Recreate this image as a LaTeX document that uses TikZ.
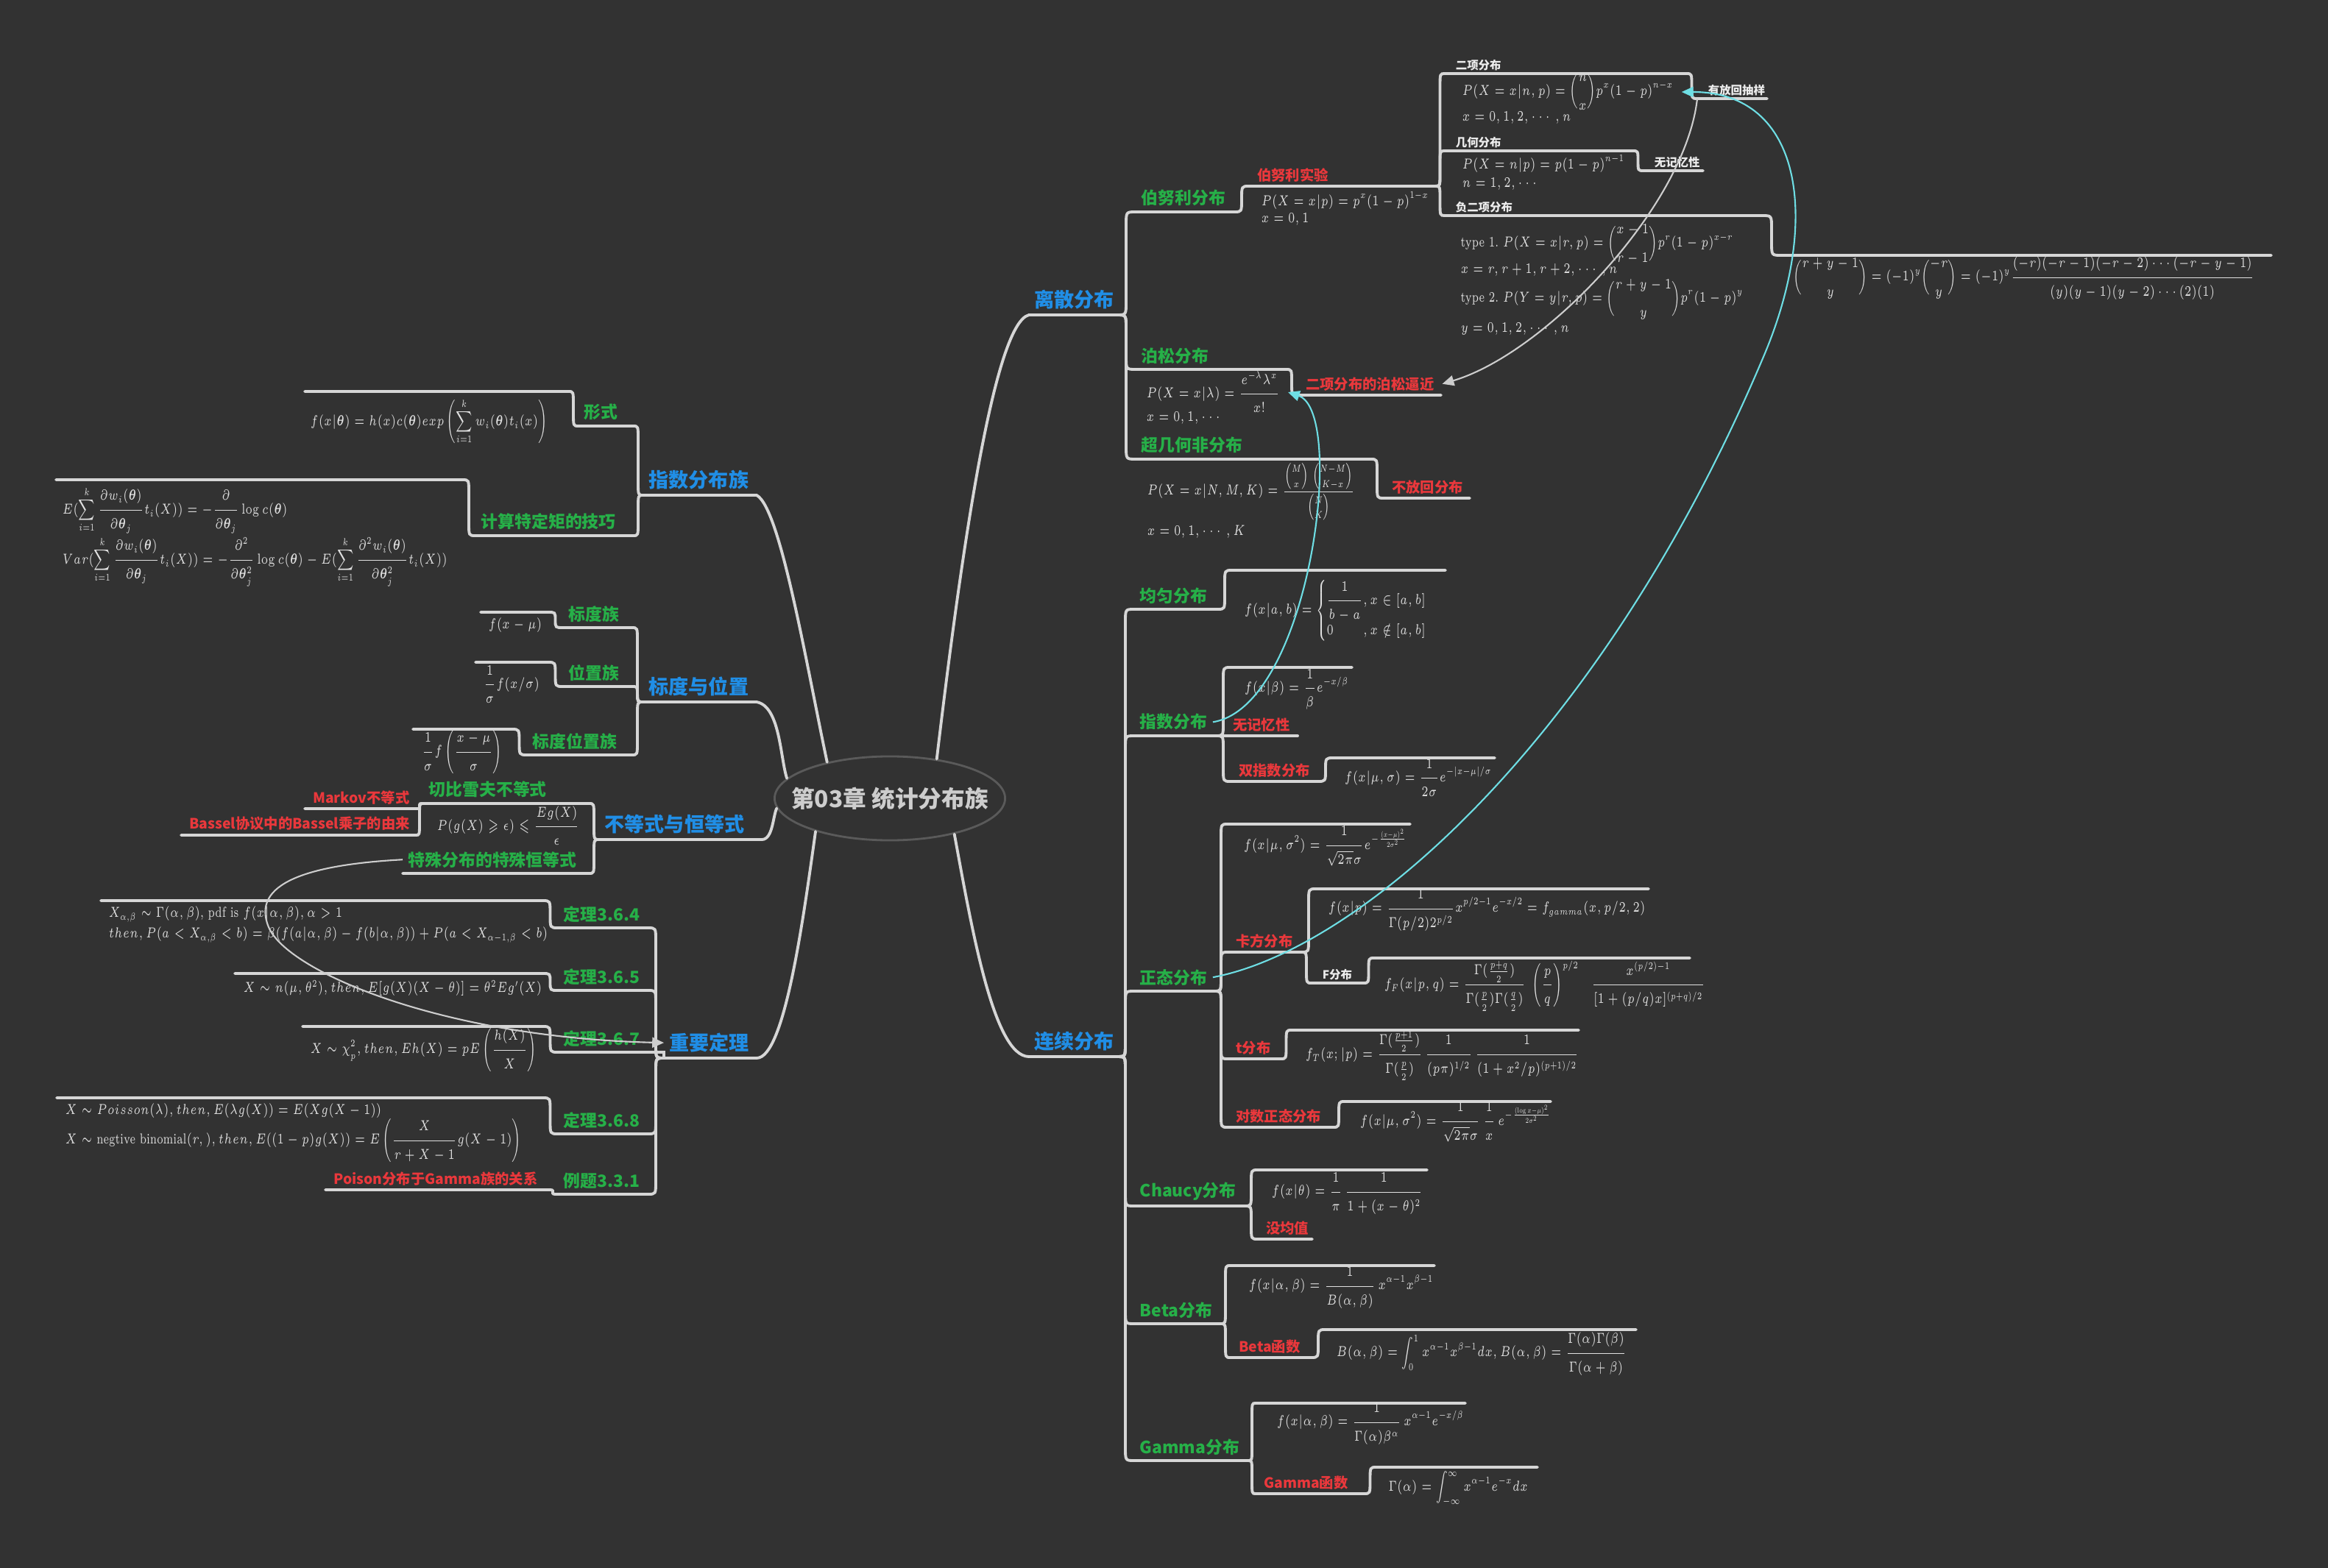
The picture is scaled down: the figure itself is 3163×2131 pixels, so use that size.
\RequirePackage{fix-cm}
\documentclass[tikz,border=0pt]{standalone}
\usepackage{amsmath,amssymb}
\usepackage[no-math]{fontspec}
\newfontfamily\cjk{Noto Sans CJK SC}
\usetikzlibrary{calc,arrows.meta,shapes.geometric}

\definecolor{bgcolor}{RGB}{50,50,50}
\definecolor{linegray}{RGB}{214,214,214}
\definecolor{ellipsegray}{RGB}{90,90,90}
\definecolor{titlegray}{RGB}{205,205,205}
\definecolor{mapblue}{RGB}{32,142,230}
\definecolor{mapgreen}{RGB}{38,176,72}
\definecolor{mapred}{RGB}{234,56,60}
\definecolor{maptext}{RGB}{236,236,236}
\definecolor{formulagray}{RGB}{224,224,224}
\definecolor{relcyancol}{RGB}{110,222,228}
\definecolor{relgraycol}{RGB}{205,205,205}

% formulas are set a little condensed
\newcommand{\fml}[1]{\scalebox{0.70}[1]{#1}}

\tikzset{
  uline/.style={draw=linegray, line width=1.1pt, line cap=round},
  branch/.style={uline, to path={let \p1=(\tikztostart), \p2=(\tikztotarget),
      \p3=($(\tikztostart)!0.5!(\tikztotarget)$),
      \n2={min(abs(\y2-\y1)/2,5pt)*ifthenelse(\y2>\y1,1,-1)} in
      .. controls (\x3,\y1) .. (\x3,{\y1+(\n2)}) -- (\x3,{\y2-(\n2)})
      .. controls (\x3,\y2) .. (\tikztotarget)}},
  topic/.style={anchor=south west, inner xsep=2pt, inner ysep=2pt},
  maintopic/.style={topic, text=mapblue, font=\cjk\bfseries\fontsize{7.7}{9}\selectfont},
  subtopic/.style={topic, text=mapgreen, font=\cjk\bfseries\fontsize{6.5}{8}\selectfont},
  notetopic/.style={topic, inner xsep=3pt, inner ysep=1.5pt, text=mapred, font=\cjk\bfseries\fontsize{5.5}{7}\selectfont},
  smalltopic/.style={topic, inner xsep=4pt, inner ysep=1pt, text=maptext, font=\cjk\bfseries\fontsize{4.4}{5.5}\selectfont},
  formula/.style={anchor=west, inner sep=0pt, text=formulagray, font=\fontsize{5.6}{7}\selectfont},
  relcyan/.style={draw=relcyancol, line width=0.6pt, -{Triangle[length=4.5pt,width=4pt]}},
  relgray/.style={draw=relgraycol, line width=0.6pt, -{Triangle[length=4.5pt,width=4pt]}}
}

\begin{document}
\begin{tikzpicture}[x=0.01cm, y=-0.01cm]
\useasboundingbox (0,0) rectangle (3163,2131);
\fill[bgcolor] (0,0) rectangle (3163,2131);

% Centre topic
\node[ellipse, draw=ellipsegray, fill=bgcolor, line width=0.8pt, minimum width=3.13cm, minimum height=1.14cm,
  inner sep=0pt, text=titlegray, font=\cjk\bfseries\fontsize{9}{11}\selectfont] (title) at (1209,1085) {\makebox[0pt]{第03章 统计分布族}};

% ---------------- discrete distributions ----------------
\coordinate (dscL) at (1398,428);   \coordinate (dscR) at (1517,428);
\coordinate (bernL) at (1543,288);  \coordinate (bernR) at (1677,288);
\coordinate (bexpL) at (1697,253);  \coordinate (bexpR) at (1950,253);
\coordinate (poisL) at (1543,502);  \coordinate (poisR) at (1747,502);
\coordinate (poisAL) at (1763,537); \coordinate (poisAR) at (1958,537);
\coordinate (hypL) at (1543,624);   \coordinate (hypR) at (1862,624);
\coordinate (noRepL) at (1880,677); \coordinate (noRepR) at (1997,677);
\coordinate (binL) at (1963,100);   \coordinate (binR) at (2291,100);
\coordinate (withRepL) at (2306,134); \coordinate (withRepR) at (2401,134);
\coordinate (geoL) at (1963,205);   \coordinate (geoR) at (2218,205);
\coordinate (noMemL) at (2233,232); \coordinate (noMemR) at (2314,232);
\coordinate (nbinL) at (1963,293);  \coordinate (nbinR) at (2394,293);
\coordinate (nbinIdL) at (2420,347); \coordinate (nbinIdR) at (3086,347);

\draw[uline] (title.40) .. controls (1305,760) and (1350,440) .. (dscL) -- (dscR);
\draw[branch] (dscR) to (bernL) -- (bernR);
\draw[branch] (bernR) to (bexpL) -- (bexpR);
\draw[branch] (dscR) to (poisL) -- (poisR);
\draw[branch] (poisR) to (poisAL) -- (poisAR);
\draw[branch] (dscR) to (hypL) -- (hypR);
\draw[branch] (hypR) to (noRepL) -- (noRepR);
\draw[branch] (bexpR) to (binL) -- (binR);
\draw[branch] (binR) to (withRepL) -- (withRepR);
\draw[branch] (bexpR) to (geoL) -- (geoR);
\draw[branch] (geoR) to (noMemL) -- (noMemR);
\draw[branch] (bexpR) to (nbinL) -- (nbinR);
\draw[branch] (nbinR) to (nbinIdL) -- (nbinIdR);

\node[maintopic] (dscT) at (dscL) {离散分布};
\node[subtopic] (bernT) at (bernL) {伯努利分布};
\node[notetopic] (bexpT) at (bexpL) {伯努利实验};
\node[subtopic] (poisT) at (poisL) {泊松分布};
\node[notetopic] (poisAT) at (poisAL) {二项分布的泊松逼近};
\node[subtopic] (hypT) at (hypL) {超几何非分布};
\node[notetopic] (noRepT) at (noRepL) {不放回分布};
\node[smalltopic] (binT) at (binL) {二项分布};
\node[smalltopic] (withRepT) at (withRepL) {有放回抽样};
\node[smalltopic] (geoT) at (geoL) {几何分布};
\node[smalltopic] (noMemT) at (noMemL) {无记忆性};
\node[smalltopic] (nbinT) at (nbinL) {负二项分布};

\node[formula] (bexpF1) at (1713,272) {\fml{$\displaystyle P(X=x|p)=p^x(1-p)^{1-x}$}};
\node[formula] (bexpF2) at (1713,298) {\fml{$x=0,1$}};
\node[formula] (poisF1) at (1557,533) {\fml{$\displaystyle P(X=x|\lambda)=\frac{e^{-\lambda}\lambda^x}{x!}$}};
\node[formula] (poisF2) at (1557,568) {\fml{$x=0,1,\cdots$}};
\node[formula] (hypF1) at (1558,668) {\fml{$\displaystyle P(X=x|N,M,K)=\frac{\binom{M}{x}\;\binom{N-M}{K-x}}{\binom{N}{K}}$}};
\node[formula] (hypF2) at (1558,723) {\fml{$x=0,1,\cdots,K$}};
\node[formula] (binF1) at (1986,125) {\fml{$\displaystyle P(X=x|n,p)=\binom{n}{x}p^x(1-p)^{n-x}$}};
\node[formula] (binF2) at (1986,160) {\fml{$x=0,1,2,\cdots,n$}};
\node[formula] (geoF1) at (1986,222) {\fml{$\displaystyle P(X=n|p)=p(1-p)^{n-1}$}};
\node[formula] (geoF2) at (1986,250) {\fml{$n=1,2,\cdots$}};
\node[formula] (nbinF1) at (1984,332) {\fml{type 1.~$\displaystyle P(X=x|r,p)=\binom{x-1}{r-1}p^r(1-p)^{x-r}$}};
\node[formula] (nbinF2) at (1984,367) {\fml{$x=r,r+1,r+2,\cdots,n$}};
\node[formula] (nbinF3) at (1984,407) {\fml{type 2.~$\displaystyle P(Y=y|r,p)=\binom{r+y-1}{y}p^r(1-p)^y$}};
\node[formula] (nbinF4) at (1984,447) {\fml{$y=0,1,2,\cdots,n$}};
\node[formula] (nbinIdF) at (2436,378) {\fml{$\displaystyle \binom{r+y-1}{y}=(-1)^y\binom{-r}{y}=(-1)^y\frac{(-r)(-r-1)(-r-2)\cdots(-r-y-1)}{(y)(y-1)(y-2)\cdots(2)(1)}$}};

% ---------------- continuous distributions ----------------
\coordinate (ctsL) at (1398,1436);  \coordinate (ctsR) at (1517,1436);
\coordinate (unifL) at (1541,828);  \coordinate (unifR) at (1654,828);
\coordinate (unifCL) at (1674,775); \coordinate (unifCR) at (1964,775);
\coordinate (expoL) at (1541,1000); \coordinate (expoR) at (1652,1000);
\coordinate (expoCL) at (1672,907); \coordinate (expoCR) at (1837,907);
\coordinate (expoMemL) at (1664,1000); \coordinate (expoMemR) at (1763,1000);
\coordinate (dexpL) at (1672,1062); \coordinate (dexpR) at (1790,1062);
\coordinate (dexpCL) at (1812,1030); \coordinate (dexpCR) at (2031,1030);
\coordinate (normL) at (1541,1347); \coordinate (normR) at (1650,1347);
\coordinate (normCL) at (1668,1120); \coordinate (normCR) at (1916,1120);
\coordinate (chiL) at (1668,1294);  \coordinate (chiR) at (1768,1294);
\coordinate (chiCL) at (1788,1208); \coordinate (chiCR) at (2240,1208);
\coordinate (fdL) at (1782,1336);   \coordinate (fdR) at (1852,1336);
\coordinate (fdCL) at (1867,1302);  \coordinate (fdCR) at (2296,1302);
\coordinate (tdL) at (1668,1439);   \coordinate (tdR) at (1740,1439);
\coordinate (tdCL) at (1755,1400);  \coordinate (tdCR) at (2145,1400);
\coordinate (lnL) at (1668,1532);   \coordinate (lnR) at (1811,1532);
\coordinate (lnCL) at (1827,1497);  \coordinate (lnCR) at (2107,1497);
\coordinate (cauL) at (1541,1639);  \coordinate (cauR) at (1691,1639);
\coordinate (cauCL) at (1709,1590); \coordinate (cauCR) at (1939,1590);
\coordinate (noMeanL) at (1709,1684); \coordinate (noMeanR) at (1783,1684);
\coordinate (betaL) at (1541,1799); \coordinate (betaR) at (1658,1799);
\coordinate (betaCL) at (1672,1720); \coordinate (betaCR) at (1949,1720);
\coordinate (betaFnL) at (1672,1845); \coordinate (betaFnR) at (1781,1845);
\coordinate (bfCL) at (1801,1807);  \coordinate (bfCR) at (2223,1807);
\coordinate (gamL) at (1541,1985);  \coordinate (gamR) at (1696,1985);
\coordinate (gamCL) at (1706,1907); \coordinate (gamCR) at (1991,1907);
\coordinate (gamFnL) at (1706,2030); \coordinate (gamFnR) at (1853,2030);
\coordinate (gfCL) at (1870,1994);  \coordinate (gfCR) at (2089,1994);

\draw[uline] (title.-29) .. controls (1320,1260) and (1350,1436) .. (ctsL) -- (ctsR);
\draw[branch] (ctsR) to (unifL) -- (unifR);
\draw[branch] (unifR) to (unifCL) -- (unifCR);
\draw[branch] (ctsR) to (expoL) -- (expoR);
\draw[branch] (expoR) to (expoCL) -- (expoCR);
\draw[uline] (expoR) -- (expoMemR);
\draw[branch] (expoR) to (dexpL) -- (dexpR);
\draw[branch] (dexpR) to (dexpCL) -- (dexpCR);
\draw[branch] (ctsR) to (normL) -- (normR);
\draw[branch] (normR) to (normCL) -- (normCR);
\draw[branch] (normR) to (chiL) -- (chiR);
\draw[branch] (chiR) to (chiCL) -- (chiCR);
\draw[branch] (chiR) to (fdL) -- (fdR);
\draw[branch] (fdR) to (fdCL) -- (fdCR);
\draw[branch] (normR) to (tdL) -- (tdR);
\draw[branch] (tdR) to (tdCL) -- (tdCR);
\draw[branch] (normR) to (lnL) -- (lnR);
\draw[branch] (lnR) to (lnCL) -- (lnCR);
\draw[branch] (ctsR) to (cauL) -- (cauR);
\draw[branch] (cauR) to (cauCL) -- (cauCR);
\draw[branch] (cauR) to (noMeanL) -- (noMeanR);
\draw[branch] (ctsR) to (betaL) -- (betaR);
\draw[branch] (betaR) to (betaCL) -- (betaCR);
\draw[branch] (betaR) to (betaFnL) -- (betaFnR);
\draw[branch] (betaFnR) to (bfCL) -- (bfCR);
\draw[branch] (ctsR) to (gamL) -- (gamR);
\draw[branch] (gamR) to (gamCL) -- (gamCR);
\draw[branch] (gamR) to (gamFnL) -- (gamFnR);
\draw[branch] (gamFnR) to (gfCL) -- (gfCR);

\node[maintopic] (ctsT) at (ctsL) {连续分布};
\node[subtopic] (unifT) at (unifL) {均匀分布};
\node[subtopic] (expoT) at (expoL) {指数分布};
\node[notetopic] (expoMemT) at (expoMemL) {无记忆性};
\node[notetopic] (dexpT) at (dexpL) {双指数分布};
\node[subtopic] (normT) at (normL) {正态分布};
\node[notetopic] (chiT) at (chiL) {卡方分布};
\node[smalltopic] (fdT) at (fdL) {F分布};
\node[notetopic] (tdT) at (tdL) {t分布};
\node[notetopic] (lnT) at (lnL) {对数正态分布};
\node[subtopic] (cauT) at (cauL) {Chaucy分布};
\node[notetopic] (noMeanT) at (noMeanL) {没均值};
\node[subtopic] (betaT) at (betaL) {Beta分布};
\node[notetopic] (betaFnT) at (betaFnL) {Beta函数};
\node[subtopic] (gamT) at (gamL) {Gamma分布};
\node[notetopic] (gamFnT) at (gamFnL) {Gamma函数};

\node[formula] (unifF) at (1690,830) {\fml{$\displaystyle f(x|a,b)=\left\{\begin{array}{@{}l@{}l}\dfrac{1}{b-a}&,x\in[a,b]\\[3pt] 0&,x\notin[a,b]\end{array}\right.$}};
\node[formula] (expoF) at (1690,937) {\fml{$\displaystyle f(x|\beta)=\frac{1}{\beta}e^{-x/\beta}$}};
\node[formula] (dexpF) at (1826,1057) {\fml{$\displaystyle f(x|\mu,\sigma)=\frac{1}{2\sigma}e^{-|x-\mu|/\sigma}$}};
\node[formula] (normF) at (1689,1150) {\fml{$\displaystyle f(x|\mu,\sigma^2)=\frac{1}{\sqrt{2\pi}\sigma}e^{-\frac{(x-\mu)^2}{2\sigma^2}}$}};
\node[formula] (chiF) at (1804,1237) {\fml{$\displaystyle f(x|p)=\frac{1}{\Gamma(p/2)2^{p/2}}x^{p/2-1}e^{-x/2}=f_{gamma}(x,p/2,2)$}};
\node[formula] (fdF) at (1880,1340) {\fml{$\displaystyle f_F(x|p,q)=\frac{\Gamma(\frac{p+q}{2})}{\Gamma(\frac{p}{2})\Gamma(\frac{q}{2})}\;\left(\frac{p}{q}\right)^{p/2}\quad\frac{x^{(p/2)-1}}{[1+(p/q)x]^{(p+q)/2}}$}};
\node[formula] (tdF) at (1773,1435) {\fml{$\displaystyle f_T(x;|p)=\frac{\Gamma(\frac{p+1}{2})}{\Gamma(\frac{p}{2})}\,\frac{1}{(p\pi)^{1/2}}\,\frac{1}{(1+x^2/p)^{(p+1)/2}}$}};
\node[formula] (lnF) at (1847,1525) {\fml{$\displaystyle f(x|\mu,\sigma^2)=\frac{1}{\sqrt{2\pi}\sigma}\,\frac{1}{x}\,e^{-\frac{(\log x-\mu)^2}{2\sigma^2}}$}};
\node[formula] (cauF) at (1727,1622) {\fml{$\displaystyle f(x|\theta)=\frac{1}{\pi}\,\frac{1}{1+(x-\theta)^2}$}};
\node[formula] (betaF) at (1696,1750) {\fml{$\displaystyle f(x|\alpha,\beta)=\frac{1}{B(\alpha,\beta)}\,x^{\alpha-1}x^{\beta-1}$}};
\node[formula] (bfF) at (1815,1840) {\fml{$\displaystyle B(\alpha,\beta)=\int_0^1x^{\alpha-1}x^{\beta-1}dx,B(\alpha,\beta)=\frac{\Gamma(\alpha)\Gamma(\beta)}{\Gamma(\alpha+\beta)}$}};
\node[formula] (gamF) at (1734,1935) {\fml{$\displaystyle f(x|\alpha,\beta)=\frac{1}{\Gamma(\alpha)\beta^\alpha}\,x^{\alpha-1}e^{-x/\beta}$}};
\node[formula] (gfF) at (1886,2023) {\fml{$\displaystyle \Gamma(\alpha)=\int_{-\infty}^{\infty}x^{\alpha-1}e^{-x}dx$}};

% ---------------- left side ----------------
\coordinate (expFamL) at (874,673); \coordinate (expFamR) at (1028,673);
\coordinate (formL) at (786,579);   \coordinate (formR) at (860,579);
\coordinate (formCL) at (414,532);  \coordinate (formCR) at (772,532);
\coordinate (momL) at (646,728);    \coordinate (momR) at (860,728);
\coordinate (momCL) at (76,652);    \coordinate (momCR) at (628,652);
\coordinate (sclL) at (874,954);    \coordinate (sclR) at (1028,954);
\coordinate (scaleL) at (765,853);  \coordinate (scaleR) at (858,853);
\coordinate (scaleCL) at (653,832); \coordinate (scaleCR) at (744,832);
\coordinate (locL) at (765,933);    \coordinate (locR) at (858,933);
\coordinate (locCL) at (646,900);   \coordinate (locCR) at (744,900);
\coordinate (slL) at (716,1026);    \coordinate (slR) at (858,1026);
\coordinate (slCL) at (561,991);    \coordinate (slCR) at (695,991);
\coordinate (ineqL) at (814,1141);  \coordinate (ineqR) at (1035,1141);
\coordinate (chebL) at (575,1092);  \coordinate (chebR) at (800,1092);
\coordinate (markovL) at (414,1099); \coordinate (markovR) at (565,1099);
\coordinate (besselL) at (246,1135); \coordinate (besselR) at (565,1135);
\coordinate (specL) at (547,1187);  \coordinate (specR) at (800,1187);
\coordinate (thmL) at (902,1438);   \coordinate (thmR) at (1028,1438);
\coordinate (t364L) at (758,1261);  \coordinate (t364R) at (880,1261);
\coordinate (t364CL) at (137,1224); \coordinate (t364CR) at (737,1224);
\coordinate (t365L) at (758,1346);  \coordinate (t365R) at (880,1346);
\coordinate (t365CL) at (319,1323); \coordinate (t365CR) at (737,1323);
\coordinate (t367L) at (758,1430);  \coordinate (t367R) at (902,1430);
\coordinate (t367CL) at (411,1395); \coordinate (t367CR) at (737,1395);
\coordinate (t368L) at (758,1541);  \coordinate (t368R) at (880,1541);
\coordinate (t368CL) at (77,1492);  \coordinate (t368CR) at (737,1492);
\coordinate (ex331L) at (758,1623); \coordinate (ex331R) at (880,1623);
\coordinate (poisGamL) at (442,1617); \coordinate (poisGamR) at (744,1617);

\draw[uline] (title.150) .. controls (1095,900) and (1060,690) .. (expFamR) -- (expFamL);
\draw[uline] (title.169) .. controls (1060,1030) and (1060,960) .. (sclR) -- (sclL);
\draw[uline] (title.185) .. controls (1050,1110) and (1050,1141) .. (ineqR) -- (ineqL);
\draw[uline] (title.204) .. controls (1090,1260) and (1065,1438) .. (thmR) -- (thmL);
\draw[branch] (expFamL) to (formR) -- (formL);
\draw[branch] (formL) to (formCR) -- (formCL);
\draw[branch] (expFamL) to (momR) -- (momL);
\draw[branch] (momL) to (momCR) -- (momCL);
\draw[branch] (sclL) to (scaleR) -- (scaleL);
\draw[branch] (scaleL) to (scaleCR) -- (scaleCL);
\draw[branch] (sclL) to (locR) -- (locL);
\draw[branch] (locL) to (locCR) -- (locCL);
\draw[branch] (sclL) to (slR) -- (slL);
\draw[branch] (slL) to (slCR) -- (slCL);
\draw[branch] (ineqL) to (chebR) -- (chebL);
\draw[branch] (chebL) to (markovR) -- (markovL);
\draw[branch] (chebL) to (besselR) -- (besselL);
\draw[branch] (ineqL) to (specR) -- (specL);
\draw[branch] (thmL) to (t364R) -- (t364L);
\draw[branch] (t364L) to (t364CR) -- (t364CL);
\draw[branch] (thmL) to (t365R) -- (t365L);
\draw[branch] (t365L) to (t365CR) -- (t365CL);
\draw[branch] (thmL) to (t367R) -- (t367L);
\draw[branch] (t367L) to (t367CR) -- (t367CL);
\draw[branch] (thmL) to (t368R) -- (t368L);
\draw[branch] (t368L) to (t368CR) -- (t368CL);
\draw[branch] (thmL) to (ex331R) -- (ex331L);
\draw[branch] (ex331L) to (poisGamR) -- (poisGamL);

\node[maintopic] (expFamT) at (expFamL) {指数分布族};
\node[subtopic] (formT) at (formL) {形式};
\node[subtopic] (momT) at (momL) {计算特定矩的技巧};
\node[maintopic] (sclT) at (sclL) {标度与位置};
\node[subtopic] (scaleT) at (scaleL) {标度族};
\node[subtopic] (locT) at (locL) {位置族};
\node[subtopic] (slT) at (slL) {标度位置族};
\node[maintopic] (ineqT) at (ineqL) {不等式与恒等式};
\node[subtopic] (chebT) at (chebL) {切比雪夫不等式};
\node[notetopic] (markovT) at (markovL) {Markov不等式};
\node[notetopic] (besselT) at (besselL) {Bassel协议中的Bassel乘子的由来};
\node[subtopic] (specT) at (specL) {特殊分布的特殊恒等式};
\node[maintopic] (thmT) at (thmL) {重要定理};
\node[subtopic] (t364T) at (t364L) {定理3.6.4};
\node[subtopic] (t365T) at (t365L) {定理3.6.5};
\node[subtopic] (t367T) at (t367L) {定理3.6.7};
\node[subtopic] (t368T) at (t368L) {定理3.6.8};
\node[subtopic] (ex331T) at (ex331L) {例题3.3.1};
\node[notetopic] (poisGamT) at (poisGamL) {Poison分布于Gamma族的关系};

\node[formula] (formF) at (421,573) {\fml{$\displaystyle f(x|\boldsymbol{\theta})=h(x)c(\boldsymbol{\theta})exp\left(\sum_{i=1}^{k}w_i(\boldsymbol{\theta})t_i(x)\right)$}};
\node[formula] (momF1) at (84,693) {\fml{$\displaystyle E(\sum_{i=1}^{k}\frac{\partial w_i(\boldsymbol{\theta})}{\partial\boldsymbol{\theta}_j}t_i(X))=-\frac{\partial}{\partial\boldsymbol{\theta}_j}\log c(\boldsymbol{\theta})$}};
\node[formula] (momF2) at (84,763) {\fml{$\displaystyle Var(\sum_{i=1}^{k}\frac{\partial w_i(\boldsymbol{\theta})}{\partial\boldsymbol{\theta}_j}t_i(X))=-\frac{\partial^2}{\partial\boldsymbol{\theta}_j^2}\log c(\boldsymbol{\theta})-E(\sum_{i=1}^{k}\frac{\partial^2w_i(\boldsymbol{\theta})}{\partial\boldsymbol{\theta}_j^2}t_i(X))$}};
\node[formula] (scaleF) at (663,850) {\fml{$f(x-\mu)$}};
\node[formula] (locF) at (656,930) {\fml{$\displaystyle\frac{1}{\sigma}f(x/\sigma)$}};
\node[formula] (slF) at (572,1022) {\fml{$\displaystyle\frac{1}{\sigma}f\left(\frac{x-\mu}{\sigma}\right)$}};
\node[formula] (chebF) at (593,1122) {\fml{$\displaystyle P(g(X)\geqslant\epsilon)\leqslant\frac{Eg(X)}{\epsilon}$}};
\node[formula] (t364F1) at (147,1242) {\fml{$X_{\alpha,\beta}\sim\Gamma(\alpha,\beta)$,~pdf is $f(x|\alpha,\beta),\alpha>1$}};
\node[formula] (t364F2) at (147,1270) {\fml{$then,P(a<X_{\alpha,\beta}<b)=\beta(f(a|\alpha,\beta)-f(b|\alpha,\beta))+P(a<X_{\alpha-1,\beta}<b)$}};
\node[formula] (t365F) at (330,1343) {\fml{$X\sim n(\mu,\theta^2),then,E[g(X)(X-\theta)]=\theta^2Eg'(X)$}};
\node[formula] (t367F) at (421,1427) {\fml{$\displaystyle X\sim\chi^2_p,then,Eh(X)=pE\left(\frac{h(X)}{X}\right)$}};
\node[formula] (t368F1) at (88,1510) {\fml{$X\sim Poisson(\lambda),then,E(\lambda g(X))=E(Xg(X-1))$}};
\node[formula] (t368F2) at (88,1550) {\fml{$\displaystyle X\sim\text{negtive binomial}(r,),then,E((1-p)g(X))=E\left(\frac{X}{r+X-1}g(X-1)\right)$}};

% relations
\draw[relcyan] (normT.east) .. controls (1850,1290) and (2180,1000) .. (2398,480)
  .. controls (2473,300) and (2450,125) .. ([xshift=3pt]binF1.east);
\draw[relcyan] (expoT.east) .. controls (1780,960) and (1830,560) .. ([xshift=3pt]poisF1.east);
\draw[relgray] (withRepL) .. controls (2290,280) and (2100,480) .. (poisAT.east);
\draw[relgray] (specT.west) .. controls (420,1175) and (340,1200) .. (365,1260)
  .. controls (390,1320) and (600,1410) .. (thmT.west);

\end{tikzpicture}
\end{document}
